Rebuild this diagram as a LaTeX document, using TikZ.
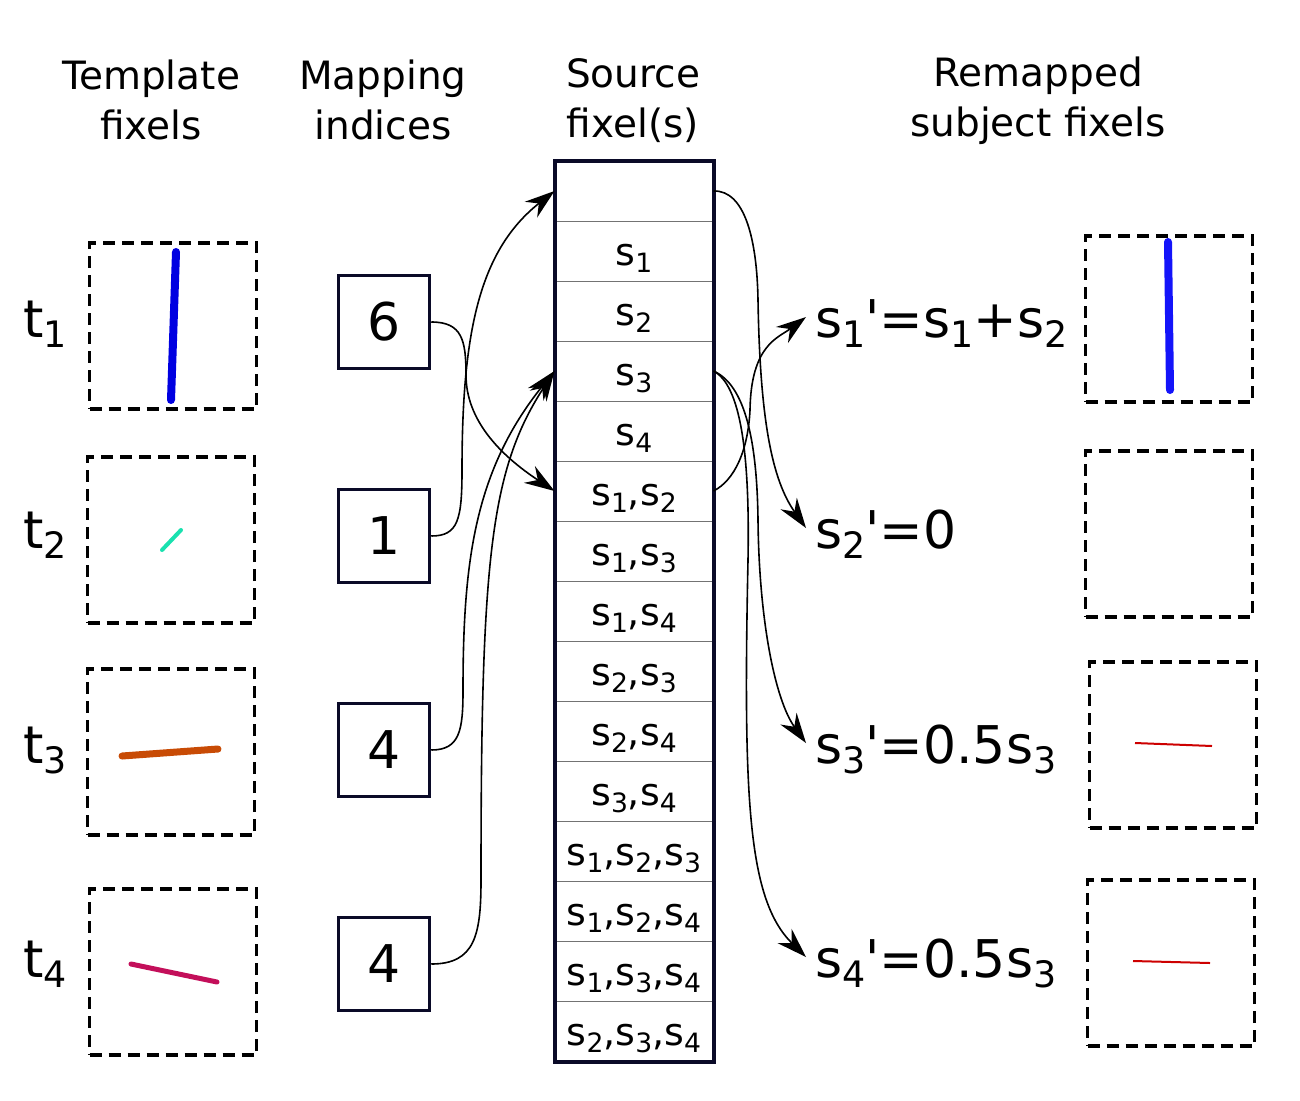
\documentclass[tikz,border=0pt]{standalone}
\usepackage{fontspec}
\newfontfamily\dvs{DejaVu Sans}
\usetikzlibrary{arrows.meta,positioning,calc}
\definecolor{navy}{RGB}{10,10,40}
\definecolor{fixblue}{RGB}{0,0,225}
\definecolor{fixblueb}{RGB}{20,20,250}
\definecolor{fixteal}{RGB}{25,225,175}
\definecolor{fixorange}{RGB}{200,75,5}
\definecolor{fixpink}{RGB}{195,15,90}
\definecolor{fixred}{RGB}{205,0,0}
\newcommand{\lo}[1]{\raisebox{-0.38ex}{\scalebox{0.7}{#1}}}

\begin{document}
\begin{tikzpicture}[x=1pt,y=-1pt,
    head/.style={font=\dvs\fontsize{39}{50}\selectfont, align=center},
    big/.style={font=\dvs\fontsize{52}{60}\selectfont, inner sep=0pt, text height=40pt, text depth=0pt},
    idx/.style={draw=navy, line width=3.5pt, minimum width=91pt, minimum height=93pt, inner sep=0pt, font=\dvs\fontsize{52}{60}\selectfont},
    cell/.style={draw=black!55, line width=1pt, minimum width=158pt, minimum height=60pt, inner sep=0pt, text height=28pt, text depth=0pt, font=\dvs\fontsize{38}{46}\selectfont},
    fixbox/.style={draw, line width=3.4pt, dash pattern=on 12pt off 7pt, minimum width=167pt, minimum height=166pt},
    arr/.style={-{Stealth[length=30pt,width=20pt,inset=10pt]}, line width=1.6pt}]
    \useasboundingbox (0,0) rectangle (1300,1100);

    % column titles
    \node[head] (hT) at (151,100) {Template\\fixels};
    \node[head] (hM) at (383,100) {Mapping\\indices};
    \node[head] (hS) at (633,101) {Source\\fixel(s)};
    \node[head] (hR) at (1038,101) {Remapped\\subject fixels};

    % template fixels
    \node[big, anchor=base west] (t1) at (23,337) {t\lo1};
    \node[big, anchor=base west] (t2) at (23,548) {t\lo2};
    \node[big, anchor=base west] (t3) at (23,763) {t\lo3};
    \node[big, anchor=base west] (t4) at (23,977) {t\lo4};
    \node[fixbox] (f1) at (173,326) {};
    \node[fixbox] (f2) at (171,540) {};
    \node[fixbox] (f3) at (171,752) {};
    \node[fixbox] (f4) at (173,972) {};
    \draw[fixblue, line width=8pt, line cap=round] (176,252) -- (171,400);
    \draw[fixteal, line width=4pt, line cap=round] (162,550) -- (181,530);
    \draw[fixorange, line width=7pt, line cap=round] (122,756) -- (218,749);
    \draw[fixpink, line width=5pt, line cap=round] (131,964) -- (217,982);

    % mapping indices
    \node[idx] (m1) at (384,322) {6};
    \node[idx] (m2) at (384,536) {1};
    \node[idx] (m3) at (384,750) {4};
    \node[idx] (m4) at (384,964) {4};

    % source fixel table
    \foreach \lab [count=\i from 0] in {{}, s\lo1, s\lo2, s\lo3, s\lo4,
        {s\lo1,s\lo2}, {s\lo1,s\lo3}, {s\lo1,s\lo4}, {s\lo2,s\lo3}, {s\lo2,s\lo4}, {s\lo3,s\lo4},
        {s\lo1,s\lo2,s\lo3}, {s\lo1,s\lo2,s\lo4}, {s\lo1,s\lo3,s\lo4}, {s\lo2,s\lo3,s\lo4}}
        \node[cell] (r\i) at (634,191+60*\i) {\lab};
    \draw[navy, line width=4pt] (r0.north west) rectangle (r14.south east);

    % remapped values
    \node[big, inner xsep=9pt, anchor=base west] (e1) at (806,337) {s\lo1'=s\lo1+s\lo2};
    \node[big, inner xsep=9pt, anchor=base west] (e2) at (806,548) {s\lo2'=0};
    \node[big, inner xsep=9pt, anchor=base west] (e3) at (806,763) {s\lo3'=0.5s\lo3};
    \node[big, inner xsep=9pt, anchor=base west] (e4) at (806,977) {s\lo4'=0.5s\lo3};
    \node[fixbox] (g1) at (1169,319) {};
    \node[fixbox] (g2) at (1169,534) {};
    \node[fixbox] (g3) at (1173,745) {};
    \node[fixbox] (g4) at (1171,963) {};
    \draw[fixblueb, line width=8pt, line cap=round] (1168,242) -- (1170,390);
    \draw[fixred, line width=2pt] (1135,743) -- (1212,746);
    \draw[fixred, line width=2pt] (1133,961) -- (1210,963);

    % index -> source
    \draw[arr] (m1.east) .. controls (462,322) and (466,340) .. (466,375) .. controls (466,420) and (500,455) .. (r5.west);
    \draw[arr] (m2.east) .. controls (458,536) and (462,520) .. (462,470) .. controls (462,330) and (480,250) .. (r0.west);
    \draw[arr] (m3.east) .. controls (460,750) and (463,730) .. (463,690) .. controls (463,560) and (475,470) .. (r3.west);
    \draw[arr] (m4.east) .. controls (475,964) and (481,935) .. (481,880) .. controls (481,560) and (490,470) .. (r3.west);

    % source -> remapped
    \draw[arr] (r0.east) .. controls (745,190) and (757,240) .. (758,300) .. controls (760,420) and (772,480) .. (e2.west);
    \draw[arr] (r5.east) .. controls (735,480) and (748,450) .. (750,410) .. controls (751,345) and (778,338) .. (e1.west);
    \draw[arr] (r3.east) .. controls (745,385) and (757,440) .. (758,520) .. controls (759,620) and (775,700) .. (e3.west);
    \draw[arr] (r3.east) .. controls (740,385) and (750,450) .. (748,560) .. controls (743,800) and (748,900) .. (e4.west);
\end{tikzpicture}
\end{document}
